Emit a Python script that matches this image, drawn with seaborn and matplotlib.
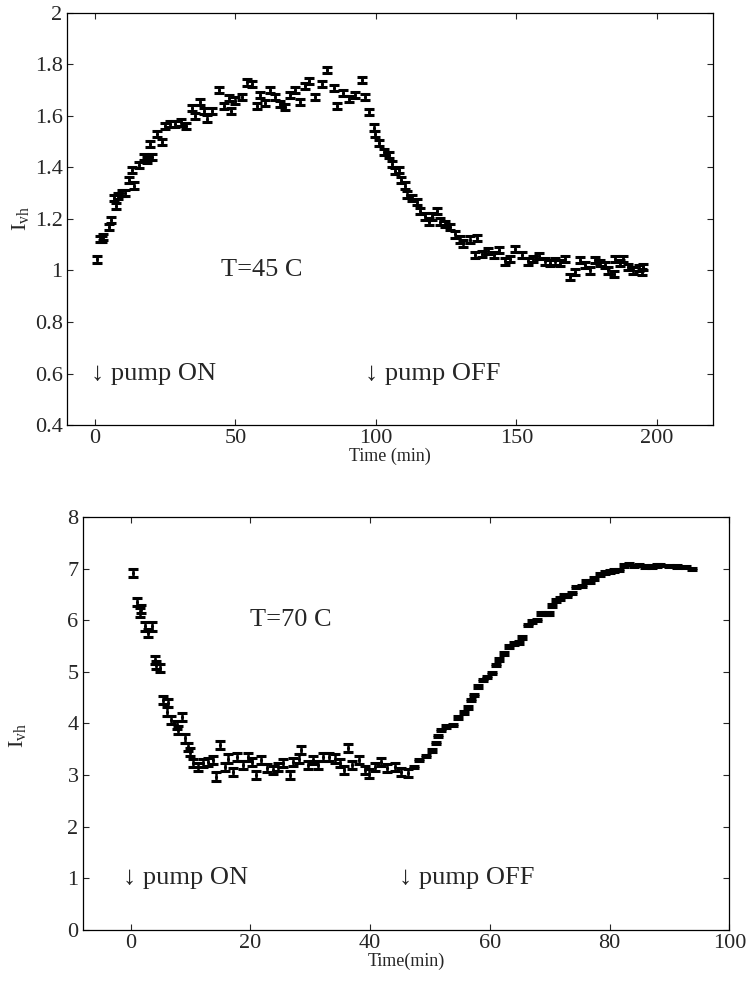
import numpy as np
import matplotlib
matplotlib.use("Agg")
import matplotlib.pyplot as plt
import seaborn as sns

# T = 45 C run: time (min) and I_vh
T45_TIME = [0.9, 2.0, 2.6, 3.0, 5.0, 5.6, 6.8, 7.6, 8.4, 9.7, 10.9, 12.1, 13.3, 13.9,
            15.6, 17.4, 18.5, 19.8, 20.4, 22.2, 24.0, 25.1, 26.9, 28.7, 30.5, 32.3,
            34.6, 35.8, 37.6, 39.0, 40.0, 41.7, 44.1, 45.9, 47.7, 48.3, 50.0, 52.4,
            54.2, 56.0, 57.7, 58.9, 60.7, 62.5, 64.2, 66.0, 67.8, 69.6, 71.4, 73.1,
            74.9, 76.1, 78.5, 80.9, 82.6, 85.0, 86.2, 88.5, 90.3, 92.7, 95.1, 96.3,
            97.4, 99.2, 99.8, 101.0, 102.8, 104.6, 105.8, 106.9, 108.1, 109.0, 110.5,
            111.1, 112.9, 114.7, 115.8, 117.6, 118.8, 120.0, 121.8, 123.0, 124.7,
            126.5, 128.3, 130.1, 131.2, 133.6, 135.4, 136.0, 137.8, 140.1, 141.9,
            143.7, 146.1, 147.8, 149.6, 152.0, 154.3, 156.1, 157.9, 160.3, 162.1,
            163.8, 165.6, 167.4, 169.2, 171.0, 172.7, 174.5, 176.3, 178.1, 179.9,
            181.7, 182.8, 184.6, 185.2, 186.9, 188.1, 189.9, 191.7, 193.5, 194.7, 195.2]
T45_IVH = [1.043, 1.121, 1.121, 1.13, 1.17, 1.196, 1.28, 1.25, 1.29, 1.30, 1.30, 1.35, 1.39, 1.33,
           1.41, 1.44, 1.43, 1.49, 1.44, 1.53, 1.50, 1.56, 1.57, 1.57, 1.575, 1.56,
           1.63, 1.60, 1.655, 1.62, 1.59, 1.62, 1.70, 1.64, 1.67, 1.62, 1.66, 1.675,
           1.73, 1.725, 1.64, 1.68, 1.65, 1.70, 1.675, 1.645, 1.635, 1.68, 1.70, 1.655,
           1.715, 1.735, 1.675, 1.725, 1.78, 1.71, 1.64, 1.69, 1.665, 1.68, 1.74, 1.675,
           1.615, 1.555, 1.53, 1.495, 1.46, 1.45, 1.415, 1.385, 1.39, 1.35, 1.33,
           1.295, 1.28, 1.265, 1.23, 1.21, 1.19, 1.21, 1.23, 1.19, 1.18,
           1.17, 1.14, 1.12, 1.105, 1.12, 1.06, 1.125, 1.065, 1.075, 1.06,
           1.08, 1.035, 1.045, 1.085, 1.06, 1.035, 1.045, 1.055, 1.035, 1.03,
           1.035, 1.03, 1.045, 0.975, 0.995, 1.04, 1.02, 1.00, 1.04, 1.03,
           1.02, 1.00, 0.985, 1.045, 1.03, 1.045, 1.015, 1.00, 1.01, 0.995, 1.015]
T45_ERR = 0.012

# T = 70 C run
T70_TIME = [0.44, 1.0, 1.5, 1.8, 2.4, 2.9, 3.5, 4.05, 4.3, 4.9, 5.4, 6.0, 6.3, 6.8, 7.7,
            7.9, 8.5, 9.0, 9.6, 9.9, 10.4, 11.3, 12.1, 12.9, 13.8, 14.3, 14.9, 15.7,
            16.3, 17.1, 17.7, 18.8, 19.6, 20.2, 21.0, 21.8, 22.7, 23.8, 24.6, 25.4,
            26.6, 27.1, 28.2, 28.5, 29.6, 30.4, 31.3, 32.1, 33.2, 34.1, 34.9, 35.7,
            36.3, 37.0, 38.2, 39.1, 39.9, 40.9, 41.8, 42.9, 44.1, 45.2, 46.3,
            47.4, 48.2, 49.3, 50.4, 51.0, 51.4, 51.8, 52.7, 53.8, 54.6, 55.7, 56.4,
            56.8, 57.4, 58.0, 58.8, 59.6, 60.4, 61.0, 61.6, 62.4, 63.2, 64.1, 64.8,
            65.3, 66.3, 67.0, 67.9, 68.5, 69.3, 69.9, 70.4, 71.0, 71.8, 72.4, 72.9,
            73.8, 74.4, 75.4, 76.0, 76.8, 77.4, 78.4, 79.2, 80.0, 80.8, 81.5, 82.4,
            83.2, 84.0, 84.9, 86.0, 87.1, 88.0, 88.5, 89.9, 91.3, 92.7, 93.8]
T70_IVH = [6.91, 6.35, 6.15, 6.22, 5.88, 5.75, 5.88, 5.23, 5.13, 5.07, 4.45, 4.23, 4.39, 4.07, 3.97,
           3.87, 4.13, 3.71, 3.55, 3.45, 3.23, 3.16, 3.23, 3.26, 3.29, 2.97, 3.58, 3.16,
           3.32, 3.06, 3.35, 3.19, 3.35, 3.26, 3.00, 3.29, 3.13, 3.10, 3.16, 3.23,
           3.00, 3.26, 3.32, 3.48, 3.19, 3.29, 3.19, 3.35, 3.35, 3.32, 3.23, 3.10,
           3.52, 3.20, 3.29, 3.10, 3.03, 3.15, 3.26, 3.13, 3.16, 3.06, 3.04,
           3.16, 3.29, 3.37, 3.48, 3.62, 3.76, 3.87, 3.94, 3.97, 4.12, 4.21, 4.31,
           4.45, 4.55, 4.71, 4.84, 4.90, 4.98, 5.13, 5.24, 5.36, 5.49, 5.55, 5.57,
           5.67, 5.91, 5.97, 6.00, 6.13, 6.13, 6.13, 6.28, 6.38, 6.42, 6.48, 6.47,
           6.53, 6.64, 6.66, 6.75, 6.75, 6.81, 6.88, 6.92, 6.94, 6.96, 6.97, 7.06,
           7.09, 7.05, 7.07, 7.04, 7.04, 7.06, 7.07, 7.05, 7.04, 7.03, 6.99]
T70_ERR_ON = 0.08    # while pumping (noisy)
T70_ERR_OFF = 0.025  # after pump off
PUMP_OFF_70 = 46.5

sns.set_style("ticks")
plt.rcParams["font.family"] = ["Liberation Serif", "DejaVu Serif"]
plt.rcParams["mathtext.fontset"] = "custom"
plt.rcParams["mathtext.rm"] = "Liberation Serif"
plt.rcParams["mathtext.it"] = "Liberation Serif"

TICK_FS = 16
NOTE_FS = 19


def style_axes(ax):
    for s in ax.spines.values():
        s.set_visible(True)
        s.set_linewidth(0.9)
        s.set_color("black")
    ax.tick_params(direction="in", top=True, right=True, length=4.5, width=0.8,
                   labelsize=TICK_FS, pad=3)


def draw_run(ax, t, y, err):
    ax.errorbar(t, y, yerr=err, fmt="none", ecolor="black", elinewidth=1.8,
                capsize=3.8, capthick=2.2)
    sns.scatterplot(x=t, y=y, ax=ax, color="black", s=5, marker="o",
                    linewidth=0, legend=False)


fig = plt.figure(figsize=(7.48, 9.82), dpi=100)

# ---- top: T = 45 C
ax1 = fig.add_axes([0.0892, 0.5672, 0.8640, 0.4196])
draw_run(ax1, np.array(T45_TIME), np.array(T45_IVH), T45_ERR)
ax1.set_xlim(-10, 220)
ax1.set_ylim(0.4, 2)
ax1.set_xticks([0, 50, 100, 150, 200])
ax1.set_yticks([0.4, 0.6, 0.8, 1, 1.2, 1.4, 1.6, 1.8, 2])
ax1.set_yticklabels(["0.4", "0.6", "0.8", "1", "1.2", "1.4", "1.6", "1.8", "2"])
style_axes(ax1)
ax1.set_xlabel("Time (min)", fontsize=13, labelpad=0)
ax1.set_ylabel(r"$\mathregular{I_{vh}}$", fontsize=TICK_FS)
ax1.yaxis.set_label_coords(-0.055, 0.5)
ax1.text(45, 1.0, "T=45 C", fontsize=NOTE_FS, ha="left", va="center")
ax1.text(-1.5, 0.6, "↓ pump ON", fontsize=NOTE_FS, ha="left", va="center")
ax1.text(96, 0.6, "↓ pump OFF", fontsize=NOTE_FS, ha="left", va="center")

# ---- bottom: T = 70 C
t70 = np.array(T70_TIME)
err70 = np.where(t70 < PUMP_OFF_70, T70_ERR_ON, T70_ERR_OFF)
ax2 = fig.add_axes([0.1106, 0.0530, 0.8644, 0.4206])
draw_run(ax2, t70, np.array(T70_IVH), err70)
ax2.set_xlim(-8, 100)
ax2.set_ylim(0, 8)
ax2.set_xticks([0, 20, 40, 60, 80, 100])
ax2.set_yticks(range(0, 9))
style_axes(ax2)
ax2.set_xlabel("Time(min)", fontsize=13, labelpad=0)
ax2.set_ylabel(r"$\mathregular{I_{vh}}$", fontsize=TICK_FS)
ax2.yaxis.set_label_coords(-0.085, 0.47)
ax2.text(20, 6.0, "T=70 C", fontsize=NOTE_FS, ha="left", va="center")
ax2.text(-1.2, 1.0, "↓ pump ON", fontsize=NOTE_FS, ha="left", va="center")
ax2.text(44.8, 1.0, "↓ pump OFF", fontsize=NOTE_FS, ha="left", va="center")

fig.savefig("out.png", dpi=100)
plt.close(fig)
